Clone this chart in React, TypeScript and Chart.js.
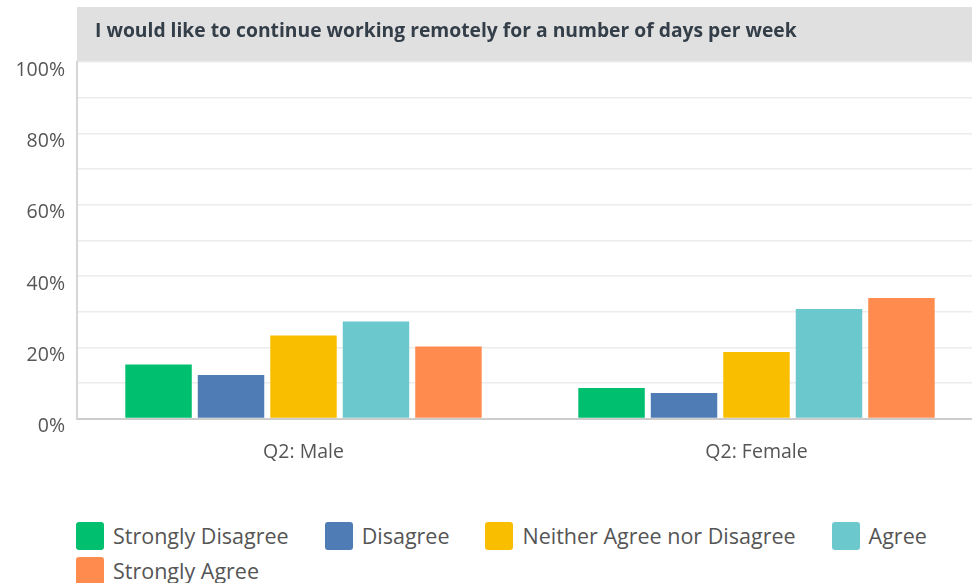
import React, { useEffect, useRef } from "react";
import { Chart, registerables } from "chart.js";

Chart.register(...registerables);

const categories = ["Q2: Male", "Q2: Female"];
const seriesNames = ["Strongly Disagree", "Disagree", "Neither Agree nor Disagree", "Agree", "Strongly Agree"];
const stronglyDisagree = [15.2, 8.6];
const disagree = [12.2, 7.2];
const neither = [23.3, 18.7];
const agree = [27.2, 30.7];
const stronglyAgree = [20.2, 33.8];
const colors = ["#00bf6f", "#507cb6", "#f9be00", "#6bc8cd", "#ff8b4f"];
const titleText = "I would like to continue working remotely for a number of days per week";
const FONT = "'Open Sans', sans-serif";

const titleBand = {
  id: "titleBand",
  beforeDraw(chart: any) {
    const { ctx, chartArea } = chart;
    ctx.save();
    ctx.fillStyle = "#e0e0e0";
    ctx.fillRect(chartArea.left, 7, chart.width - chartArea.left, chartArea.top - 7);
    ctx.fillStyle = "#333e48";
    ctx.font = `bold 19.3px ${FONT}`;
    ctx.textBaseline = "middle";
    ctx.textAlign = "left";
    ctx.fillText(titleText, chartArea.left + 18, 32);
    ctx.restore();
  },
};

export default function App() {
  const ref = useRef<HTMLCanvasElement>(null);
  useEffect(() => {
    const values = [stronglyDisagree, disagree, neither, agree, stronglyAgree];
    const chart = new Chart(ref.current!, {
      type: "bar",
      data: {
        labels: categories,
        datasets: seriesNames.map((n, i) => ({
          label: n,
          data: values[i],
          backgroundColor: colors[i],
          borderWidth: 0,
          barPercentage: 0.917,
          categoryPercentage: 0.8,
        })),
      },
      options: {
        animation: false,
        responsive: false,
        layout: { padding: { top: 62, right: 0, left: 0, bottom: 0 } },
        plugins: { legend: { display: false }, tooltip: { enabled: false }, title: { display: false } },
        scales: {
          x: {
            grid: { display: false, drawTicks: false },
            border: { color: "#cccccc", width: 2 },
            ticks: { color: "#555555", font: { family: FONT, size: 19.5 }, padding: 22 },
          },
          y: {
            min: 0,
            max: 100,
            afterFit: (s: any) => { s.width = 77; },
            border: { color: "#d6d6d6", width: 2 },
            grid: {
              drawTicks: false,
              color: (c: any) => (c.tick && c.tick.value === 0 ? "#cccccc" : "#ececec"),
              lineWidth: 1.5,
            },
            ticks: {
              stepSize: 10,
              autoSkip: false,
              padding: 12,
              labelOffset: 8,
              color: "#555555",
              font: { family: FONT, size: 19.5 },
              callback: (v: any) => (Number(v) % 20 === 0 ? `${v}%` : ""),
            },
          },
        },
      },
      plugins: [titleBand],
    });
    return () => chart.destroy();
  }, []);

  return (
    <div style={{ position: "absolute", left: 0, top: 0, width: 972, height: 583, overflow: "hidden", background: "#fff" }}>
      <canvas ref={ref} width={983} height={486} style={{ display: "block" }} />
      <div
        style={{
          position: "absolute",
          left: 76,
          top: 522,
          width: 896,
          display: "flex",
          flexWrap: "wrap",
          rowGap: 7,
          fontFamily: FONT,
          fontSize: 21.5,
          color: "#555555",
        }}
      >
        {seriesNames.map((n, i) => (
          <div key={n} style={{ display: "flex", alignItems: "center", marginRight: 36, height: 28 }}>
            <span style={{ width: 28, height: 28, borderRadius: 3, background: colors[i], marginRight: 9, display: "inline-block", flex: "none" }} />
            <span style={{ whiteSpace: "nowrap", lineHeight: "28px" }}>{n}</span>
          </div>
        ))}
      </div>
    </div>
  );
}
